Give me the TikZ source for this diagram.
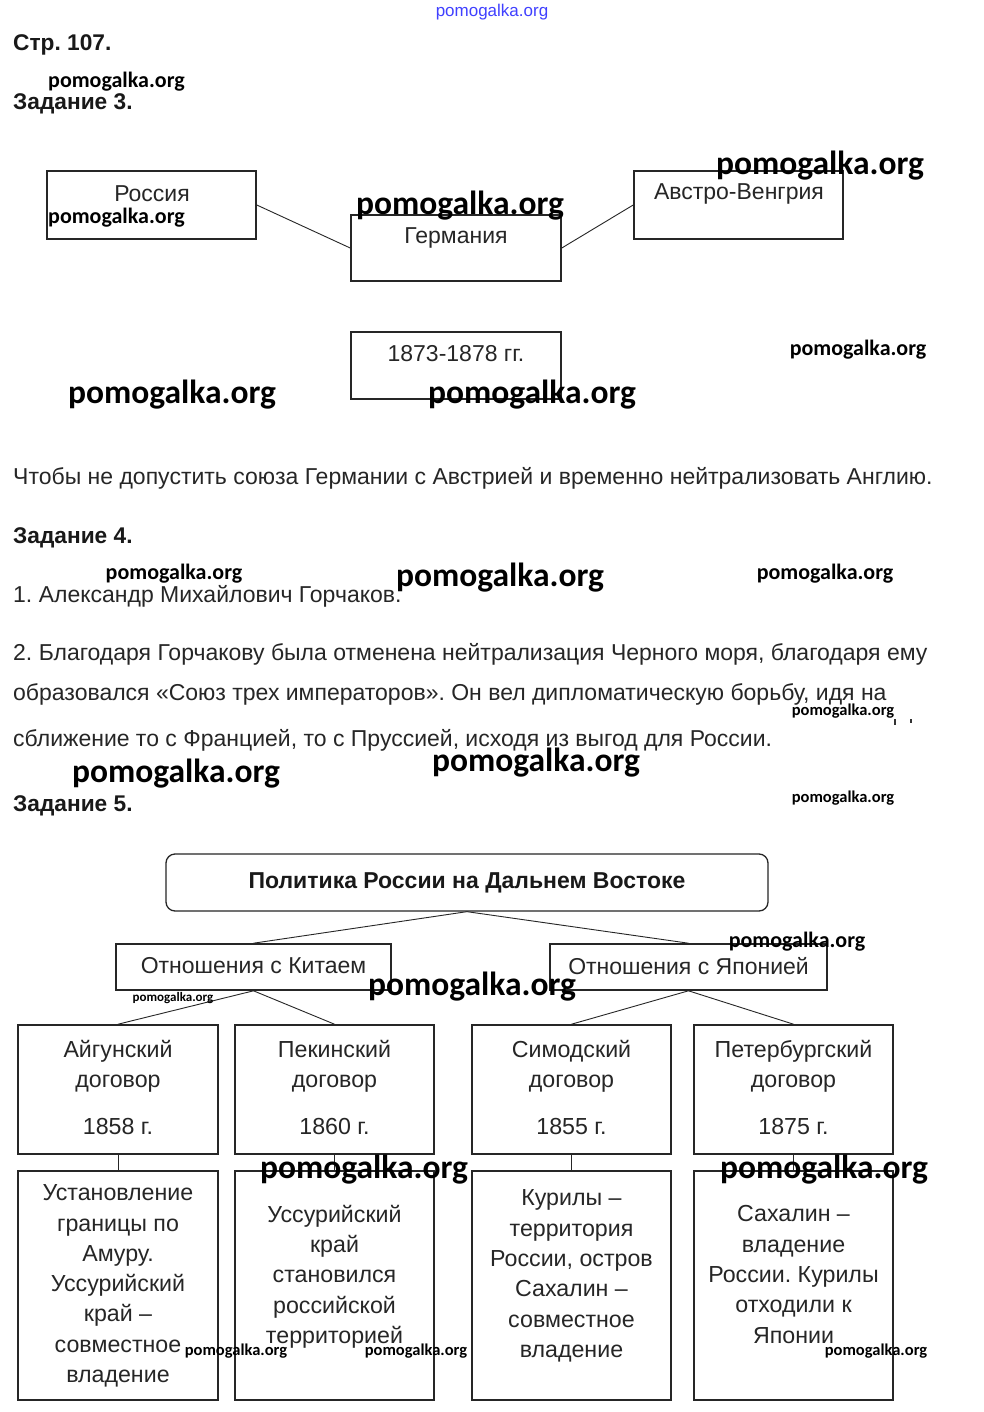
\documentclass[tikz,border=0pt]{standalone}
\usepackage{fontspec}
\setmainfont{Liberation Sans}
\newfontfamily\wmfont{Carlito}
\frenchspacing
\tikzset{
  x=1pt,y=-1pt,
  box/.style={draw=black!85, line width=1.6pt, inner sep=0pt},
  conn/.style={draw=black!85, line width=0.9pt},
  body/.style={anchor=base west, inner sep=0pt, font=\fontsize{23}{27}\selectfont, text=black!85},
  head/.style={anchor=base west, inner sep=0pt, font=\fontsize{22.7}{27}\selectfont\bfseries, text=black!90},
  btext/.style={inner sep=0pt, align=center, font=\fontsize{23}{31}\selectfont, text=black!85},
  ctext/.style={inner sep=0pt, align=center, font=\fontsize{23.2}{30.3}\selectfont, text=black!85},
  wmL/.style={inner sep=0pt, font=\wmfont\bfseries\fontsize{33.5}{36}\selectfont},
  wmM/.style={inner sep=0pt, font=\wmfont\bfseries\fontsize{22}{24}\selectfont},
  wmS/.style={inner sep=0pt, font=\wmfont\bfseries\fontsize{16.5}{18}\selectfont},
  wmT/.style={inner sep=0pt, font=\wmfont\bfseries\fontsize{13}{14}\selectfont},
}
\begin{document}
\begin{tikzpicture}
\useasboundingbox (0,0) rectangle (983,1412);
\fill[white] (0,0) rectangle (983,1412);

% top watermark
\node[inner sep=0pt, text=blue!75, font=\fontsize{17}{18}\selectfont] (wtop) at (492,12) {pomogalka.org};

\node[head] (p107) at (13,51) {Стр. 107.};
\node[wmM, anchor=west] (w1) at (48,82) {pomogalka.org};
\node[head] (z3) at (13,110) {Задание 3.};

% Task 3 boxes
\node[box, minimum width=209, minimum height=68] (ru) at (151.5,205) {};
\node[btext] (rut) at (152,194) {Россия};
\node[box, minimum width=210, minimum height=66] (de) at (456,248) {};
\node[btext] (det) at (456,238) {Германия};
\node[box, minimum width=209, minimum height=68] (au) at (738.5,205) {};
\node[btext] (aut) at (739,194) {Австро-Венгрия};
\node[box, minimum width=210, minimum height=67] (yr) at (456,365.5) {};
\node[btext] (yrt) at (456,354) {1873-1878 гг.};
\draw[conn] (ru.east) -- (de.west);
\draw[conn] (au.west) -- (de.east);

\node[wmM, anchor=west] (w2) at (48,218) {pomogalka.org};
\node[wmL] (w3) at (460,206) {pomogalka.org};
\node[wmL] (w4) at (820,166) {pomogalka.org};
\node[wmM] (w5) at (858,350) {pomogalka.org};
\node[wmL] (w6) at (172,395) {pomogalka.org};
\node[wmL] (w7) at (532,395) {pomogalka.org};

% text
\node[body] (t1) at (13,484) {Чтобы не допустить союза Германии с Австрией и временно нейтрализовать Англию.};
\node[head] (z4) at (13,543) {Задание 4.};
\node[body] (t2) at (13,602) {1. Александр Михайлович Горчаков.};
\node[wmM] (w8) at (174,574) {pomogalka.org};
\node[wmL] (w9) at (500,578) {pomogalka.org};
\node[wmM] (w10) at (825,574) {pomogalka.org};
\node[body] (t3) at (13,660) {2. Благодаря Горчакову была отменена нейтрализация Черного моря, благодаря ему};
\node[body] (t4) at (13,700) {образовался «Союз трех императоров». Он вел дипломатическую борьбу, идя на};
\node[wmS] (w11) at (843,711) {pomogalka.org};
\fill[black!80] (894,719) rectangle (896,725);
\fill[black!80] (910,719) rectangle (912,723);
\node[body] (t5) at (13,746) {сближение то с Францией, то с Пруссией, исходя из выгод для России.};
\node[wmL] (w12) at (176,774) {pomogalka.org};
\node[wmL] (w13) at (536,763) {pomogalka.org};
\node[head] (z5) at (13,811) {Задание 5.};
\node[wmS] (w14) at (843,798) {pomogalka.org};

% Task 5
\node[draw=black!85, line width=1.3pt, rounded corners=9pt, minimum width=602, minimum height=57, inner sep=0pt,
      font=\fontsize{23}{27}\selectfont\bfseries, text=black!90] (pol) at (467,882.5) {Политика России на Дальнем Востоке};
\node[box, minimum width=275, minimum height=46] (cn) at (253.5,967) {};
\node[btext] (cnt) at (253.5,966) {Отношения с Китаем};
\node[box, minimum width=277, minimum height=46] (jp) at (688.5,967) {};
\node[btext] (jpt) at (688.5,966) {Отношения с Японией};
\draw[conn] (pol.south) -- (cn.north);
\draw[conn] (pol.south) -- (jp.north);

\node[box, minimum width=200, minimum height=129] (a1) at (118,1089.5) {};
\node[box, minimum width=199, minimum height=129] (a2) at (334.5,1089.5) {};
\node[box, minimum width=199, minimum height=129] (a3) at (571.5,1089.5) {};
\node[box, minimum width=199, minimum height=129] (a4) at (793.5,1089.5) {};
\node[box, minimum width=200, minimum height=229] (b1) at (118,1285.5) {};
\node[box, minimum width=199, minimum height=229] (b2) at (334.5,1285.5) {};
\node[box, minimum width=199, minimum height=229] (b3) at (571.5,1285.5) {};
\node[box, minimum width=199, minimum height=229] (b4) at (793.5,1285.5) {};

\draw[conn] (cn.south) -- (a1.north);
\draw[conn] (cn.south) -- (a2.north);
\draw[conn] (jp.south) -- (a3.north);
\draw[conn] (jp.south) -- (a4.north);
\draw[conn] (a1.south) -- (b1.north);
\draw[conn] (a2.south) -- (b2.north);
\draw[conn] (a3.south) -- (b3.north);
\draw[conn] (a4.south) -- (b4.north);

\node[ctext] (a1t) at (118,1087.5) {Айгунский\\договор\\[17pt]1858 г.};
\node[ctext] (a2t) at (334.5,1087.5) {Пекинский\\договор\\[17pt]1860 г.};
\node[ctext] (a3t) at (571.5,1087.5) {Симодский\\договор\\[17pt]1855 г.};
\node[ctext] (a4t) at (793.5,1087.5) {Петербургский\\договор\\[17pt]1875 г.};

\node[ctext] (b1t) at (118,1286) {Установление\\границы по\\Амуру.\\Уссурийский\\край –\\совместное\\владение};
\node[ctext] (b2t) at (334.5,1276.5) {Уссурийский\\край\\становился\\российской\\территорией};
\node[ctext] (b3t) at (571.5,1276) {Курилы –\\территория\\России, остров\\Сахалин –\\совместное\\владение};
\node[ctext] (b4t) at (793.5,1274.5) {Сахалин –\\владение\\России. Курилы\\отходили к\\Японии};

\node[wmT] (w15) at (173,998) {pomogalka.org};
\node[wmM] (w16) at (797,942) {pomogalka.org};
\node[wmL] (w17) at (472,987) {pomogalka.org};
\node[wmL] (w18) at (364,1170) {pomogalka.org};
\node[wmL] (w19) at (824,1170) {pomogalka.org};
\node[wmS] (w20) at (236,1351) {pomogalka.org};
\node[wmS] (w21) at (416,1351) {pomogalka.org};
\node[wmS] (w22) at (876,1351) {pomogalka.org};
\end{tikzpicture}
\end{document}
